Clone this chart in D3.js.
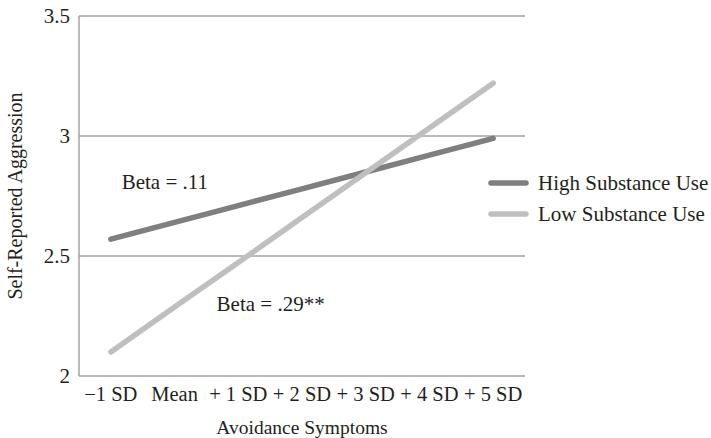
<!DOCTYPE html>
<html><head><meta charset="utf-8">
<script src="https://cdn.jsdelivr.net/npm/d3@7"></script>
<style>body{margin:0;background:#fff}svg{display:block}text{font-family:"Liberation Serif","Times New Roman",serif !important;fill:#231f20}</style>
</head><body>
<svg id="c" width="711" height="438"></svg>
<script>
const categories = ["\u22121 SD", "Mean", "+ 1 SD", "+ 2 SD", "+ 3 SD", "+ 4 SD", "+ 5 SD"];
const highValues = [2.57, 2.64, 2.71, 2.78, 2.85, 2.92, 2.99];
const lowValues  = [2.100, 2.287, 2.473, 2.660, 2.847, 3.033, 3.220];
const seriesNames = ["High Substance Use", "Low Substance Use"];
const yTicks = [2, 2.5, 3, 3.5];
const yTickLabels = ["2", "2.5", "3", "3.5"];
const annotations = [
  {text: "Beta = .11", cat: 0.17, value: 2.78},
  {text: "Beta = .29**", cat: 1.66, value: 2.27}
];

const svg = d3.select("#c");
const SERIF = '"Liberation Serif","Times New Roman",serif';
const L = 79, R = 525, T = 16, B = 376;
const x = d3.scaleBand().domain(categories).range([L, R]).paddingInner(0).paddingOuter(0);
const y = d3.scaleLinear().domain([2, 3.5]).range([B, T]);
const cx = c => x(c) + x.bandwidth() / 2;
const gridColor = "#a3a3a3";

// gridlines
svg.append("g").selectAll("line").data(yTicks).join("line")
  .attr("x1", L).attr("x2", R).attr("y1", d => y(d)).attr("y2", d => y(d))
  .attr("stroke", gridColor).attr("stroke-width", 1.5);
// left axis line
svg.append("line").attr("x1", L).attr("x2", L).attr("y1", T).attr("y2", B)
  .attr("stroke", gridColor).attr("stroke-width", 1.5);

// y tick labels
const yAxis = d3.axisLeft(y).tickValues(yTicks).tickSize(0).tickPadding(9)
  .tickFormat((d, i) => yTickLabels[i]);
const gy = svg.append("g").attr("transform", `translate(${L},0)`).call(yAxis)
  .attr("font-family", SERIF).attr("font-size", 21);
gy.select(".domain").remove();
gy.selectAll("text").style("font-family", SERIF).style("font-size", "21px").style("fill", "#231f20");

// x tick labels
const xAxis = d3.axisBottom(x).tickSize(0).tickPadding(10);
const gx = svg.append("g").attr("transform", `translate(0,${B})`).call(xAxis)
  .attr("font-family", SERIF).attr("font-size", 20.5);
gx.select(".domain").remove();
gx.selectAll("text").style("font-family", SERIF).style("font-size", "20.5px").style("fill", "#231f20");

// axis titles
svg.append("text").attr("x", (L + R) / 2).attr("y", 434).attr("text-anchor", "middle")
  .style("font-size", "19.5px").text("Avoidance Symptoms");
svg.append("text").attr("transform", `translate(22,${(T + B) / 2}) rotate(-90)`)
  .attr("text-anchor", "middle").style("font-size", "20px").text("Self-Reported Aggression");

// lines
const colors = ["#7f7f7f", "#bfbfbf"];
const series = [highValues, lowValues];
const line = d3.line().x((d, i) => cx(categories[i])).y(d => y(d));
series.forEach((s, k) => {
  svg.append("path").datum(s).attr("d", line).attr("fill", "none")
    .attr("stroke", colors[k]).attr("stroke-width", 5.5)
    .attr("stroke-linecap", "round").attr("stroke-linejoin", "round");
});

// annotations
annotations.forEach(a => {
  svg.append("text").attr("x", L + a.cat * x.bandwidth() + x.bandwidth() / 2)
    .attr("y", y(a.value)).style("font-size", "21px").text(a.text);
});

// legend
seriesNames.forEach((n, k) => {
  const ly = 183 + k * 31;
  svg.append("line").attr("x1", 491).attr("x2", 526).attr("y1", ly).attr("y2", ly)
    .attr("stroke", colors[k]).attr("stroke-width", 5.5).attr("stroke-linecap", "round");
  svg.append("text").attr("x", 538).attr("y", ly + 7).style("font-size", "21px").text(n);
});
</script>
</body></html>
